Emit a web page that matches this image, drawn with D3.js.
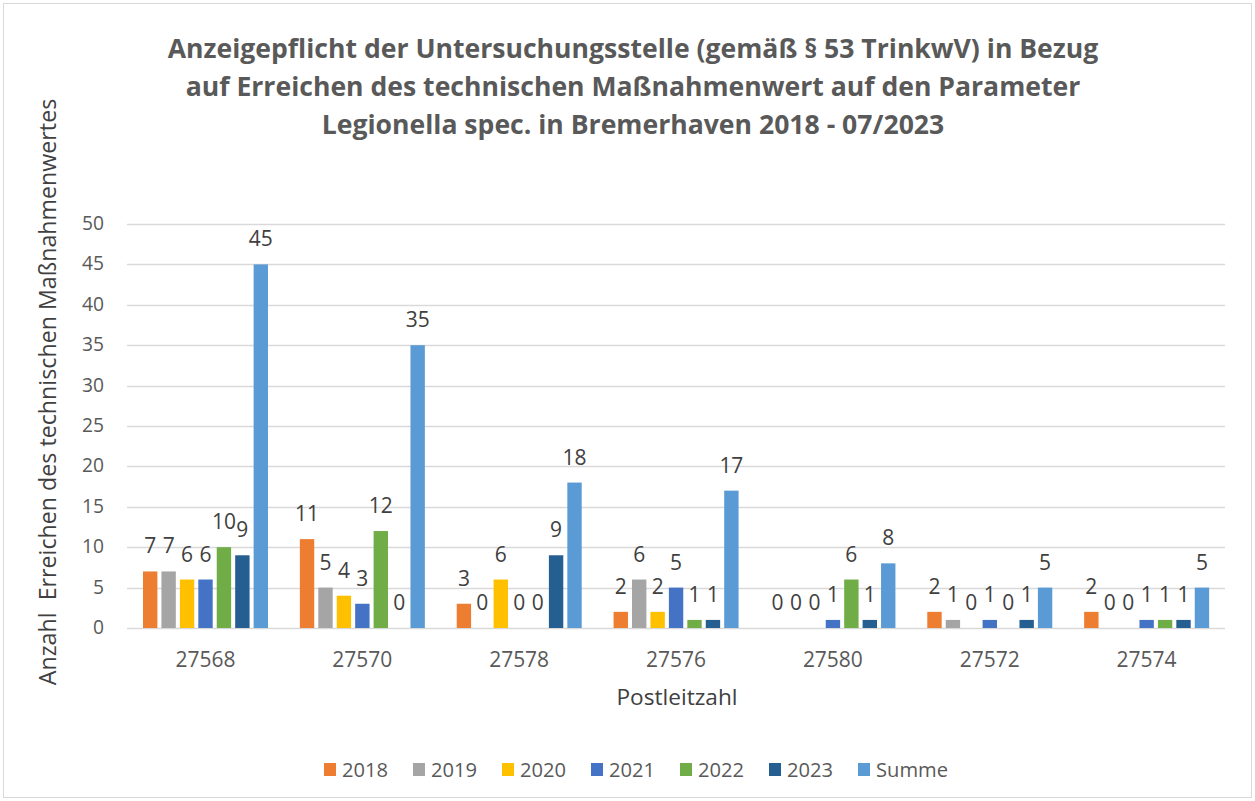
<!DOCTYPE html>
<html>
<head>
<meta charset="utf-8">
<script src="https://cdn.jsdelivr.net/npm/d3@7"></script>
<style>
  body { margin: 0; background: #fff; }
  text { font-family: "Open Sans", Lato, sans-serif; }
</style>
</head>
<body>
<script>
// data
const categories = ["27568", "27570", "27578", "27576", "27580", "27572", "27574"];
const seriesNames = ["2018", "2019", "2020", "2021", "2022", "2023", "Summe"];
const v2018 = [7, 11, 3, 2, 0, 2, 2];
const v2019 = [7, 5, 0, 6, 0, 1, 0];
const v2020 = [6, 4, 6, 2, 0, 0, 0];
const v2021 = [6, 3, 0, 5, 1, 1, 1];
const v2022 = [10, 12, 0, 1, 6, 0, 1];
const v2023 = [9, 0, 9, 1, 1, 1, 1];
const vSumme = [45, 35, 18, 17, 8, 5, 5];
const yTicks = [0, 5, 10, 15, 20, 25, 30, 35, 40, 45, 50];
const titleLines = [
  "Anzeigepflicht der Untersuchungsstelle (gemäß § 53 TrinkwV) in Bezug",
  "auf Erreichen des technischen Maßnahmenwert auf den Parameter",
  "Legionella spec. in Bremerhaven 2018 - 07/2023"
];

const seriesValues = [v2018, v2019, v2020, v2021, v2022, v2023, vSumme];
const colors = ["#ED7D31", "#A5A5A5", "#FFC000", "#4472C4", "#70AD47", "#255E91", "#5B9BD5"];

const WIDTH = 1255, HEIGHT = 801;
const PLOT = { left: 127, right: 1225, top: 224, bottom: 628 };

const svg = d3.select('body').append('svg')
  .attr('width', WIDTH).attr('height', HEIGHT);

// find a font size so that a text gets the width it has in the picture
function fitSize(str, target, weight) {
  const t = svg.append('text')
    .attr('font-size', '20px')
    .attr('font-weight', weight || 'normal')
    .style('white-space', 'pre')
    .text(str);
  const w = t.node().getComputedTextLength();
  t.remove();
  return 20 * target / w;
}

const titleSize = fitSize(titleLines[0], 931, 'bold');
const tickSize = fitSize('27568', 60);
const yTickSize = fitSize('50', 22);
const labelSize = fitSize('45', 24);
const axisTitleSize = fitSize('Postleitzahl', 121);
const yTitleSize = fitSize('Anzahl  Erreichen des technischen Maßnahmenwertes', 587);
const legendSize = fitSize('Summe', 72);

// frame
svg.append('rect')
  .attr('x', 3.5).attr('y', 3.5)
  .attr('width', WIDTH - 7).attr('height', HEIGHT - 7)
  .attr('fill', '#fff').attr('stroke', '#d9d9d9');

// title
svg.append('text')
  .attr('x', 633).attr('y', 58)
  .attr('text-anchor', 'middle')
  .attr('font-size', titleSize + 'px').attr('font-weight', 'bold')
  .attr('fill', '#595959')
  .selectAll('tspan').data(titleLines).enter()
  .append('tspan')
  .attr('x', 633)
  .attr('dy', (d, i) => i === 0 ? 0 : 38)
  .text(d => d);

const y = d3.scaleLinear().domain([0, 50]).range([PLOT.bottom, PLOT.top]);
const x0 = d3.scaleBand().domain(categories).range([PLOT.left, PLOT.right]);
const x1 = d3.scaleBand().domain(seriesNames).range([16, 141]).paddingInner(0.22);

// gridlines
svg.append('g').selectAll('line').data(yTicks).enter()
  .append('line')
  .attr('x1', PLOT.left).attr('x2', PLOT.right)
  .attr('y1', d => Math.round(y(d)) + 0.5).attr('y2', d => Math.round(y(d)) + 0.5)
  .attr('stroke', '#d9d9d9').attr('stroke-width', 1.3);

// y tick labels
svg.append('g').selectAll('text').data(yTicks).enter()
  .append('text')
  .attr('x', 104).attr('y', d => y(d) + 6)
  .attr('text-anchor', 'end')
  .attr('font-size', yTickSize + 'px').attr('fill', '#595959')
  .text(d => d);

// bars
const groups = svg.append('g').selectAll('g').data(categories).enter()
  .append('g')
  .attr('transform', d => 'translate(' + x0(d) + ',0)');

groups.each(function(cat, ci) {
  const g = d3.select(this);
  const rows = seriesNames.map((s, si) => ({ s: s, v: seriesValues[si][ci], c: colors[si] }));
  g.selectAll('rect').data(rows).enter()
    .append('rect')
    .attr('x', d => x1(d.s))
    .attr('y', d => y(d.v))
    .attr('width', x1.bandwidth())
    .attr('height', d => y(0) - y(d.v))
    .attr('fill', d => d.c);
  g.selectAll('text').data(rows).enter()
    .append('text')
    .attr('x', d => x1(d.s) + x1.bandwidth() / 2)
    .attr('y', d => y(d.v) - 18)
    .attr('text-anchor', 'middle')
    .attr('font-size', labelSize + 'px').attr('fill', '#404040')
    .text(d => d.v);
});

// x tick labels
svg.append('g').selectAll('text').data(categories).enter()
  .append('text')
  .attr('x', d => x0(d) + x0.bandwidth() / 2)
  .attr('y', 667)
  .attr('text-anchor', 'middle')
  .attr('font-size', tickSize + 'px').attr('fill', '#595959')
  .text(d => d);

// axis titles
svg.append('text')
  .attr('x', 677).attr('y', 705)
  .attr('text-anchor', 'middle')
  .attr('font-size', axisTitleSize + 'px').attr('fill', '#404040')
  .text('Postleitzahl');

svg.append('text')
  .attr('transform', 'translate(56,392) rotate(-90)')
  .attr('text-anchor', 'middle')
  .attr('font-size', yTitleSize + 'px').attr('fill', '#404040')
  .style('white-space', 'pre')
  .text('Anzahl  Erreichen des technischen Maßnahmenwertes');

// legend
const legendX = [324, 413, 502, 591, 680, 769, 858];
const legend = svg.append('g').selectAll('g').data(seriesNames).enter()
  .append('g')
  .attr('transform', (d, i) => 'translate(' + legendX[i] + ',763)');
legend.append('rect')
  .attr('width', 12).attr('height', 13)
  .attr('fill', (d, i) => colors[i]);
legend.append('text')
  .attr('x', 18).attr('y', 14)
  .attr('font-size', legendSize + 'px').attr('fill', '#595959')
  .text(d => d);
</script>
</body>
</html>
